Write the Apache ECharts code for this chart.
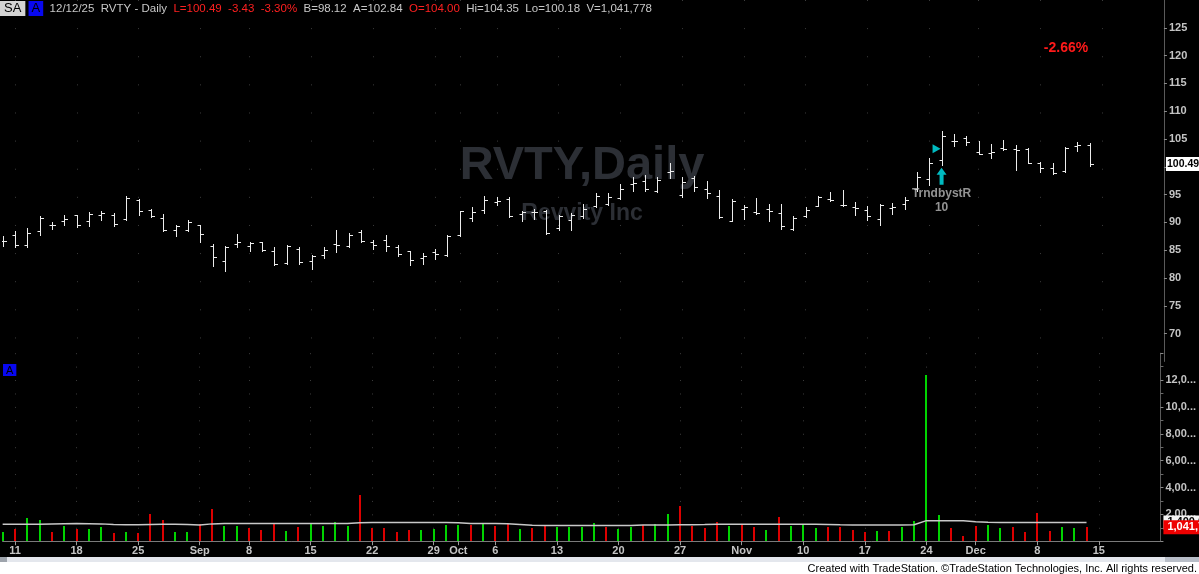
<!DOCTYPE html>
<html><head><meta charset="utf-8">
<script src="https://cdn.jsdelivr.net/npm/echarts@6/dist/echarts.min.js"></script>
<style>html,body{margin:0;padding:0;background:#000;overflow:hidden}#c{width:1199px;height:574px}</style>
</head><body><div id="c"></div><script>
// ---------- DATA ----------
const dates = ['2025-08-08','2025-08-11','2025-08-12','2025-08-13','2025-08-14','2025-08-15','2025-08-18','2025-08-19','2025-08-20','2025-08-21','2025-08-22','2025-08-25','2025-08-26','2025-08-27','2025-08-28','2025-08-29',
'2025-09-02','2025-09-03','2025-09-04','2025-09-05','2025-09-08','2025-09-09','2025-09-10','2025-09-11','2025-09-12','2025-09-15','2025-09-16','2025-09-17','2025-09-18','2025-09-19','2025-09-22','2025-09-23','2025-09-24','2025-09-25','2025-09-26','2025-09-29','2025-09-30',
'2025-10-01','2025-10-02','2025-10-03','2025-10-06','2025-10-07','2025-10-08','2025-10-09','2025-10-10','2025-10-13','2025-10-14','2025-10-15','2025-10-16','2025-10-17','2025-10-20','2025-10-21','2025-10-22','2025-10-23','2025-10-24','2025-10-27','2025-10-28','2025-10-29','2025-10-30','2025-10-31',
'2025-11-03','2025-11-04','2025-11-05','2025-11-06','2025-11-07','2025-11-10','2025-11-11','2025-11-12','2025-11-13','2025-11-14','2025-11-17','2025-11-18','2025-11-19','2025-11-20','2025-11-21','2025-11-24','2025-11-25','2025-11-26','2025-11-28',
'2025-12-01','2025-12-02','2025-12-03','2025-12-04','2025-12-05','2025-12-08','2025-12-09','2025-12-10','2025-12-11','2025-12-12'];
const futureDates = ['2025-12-15','2025-12-16','2025-12-17','2025-12-18','2025-12-19','2025-12-22'];

const opens = [86.6,87.8,85.9,88.5,89.5,90.3,91.3,90.2,91.4,91.4,90.7,94.0,92.3,90.8,88.55,88.7,
89.5,85.8,83.1,86.1,85.7,86.4,84.9,82.7,85.3,83.1,84.2,86.06,85.8,88.3,86.4,86.8,85.5,84.8,83.6,84.6,84.2,
87.7,90.8,92.3,93.65,94.25,91.5,91.9,92.0,89.0,90.4,91.1,92.9,93.4,94.4,97.0,97.45,95.7,99.0,94.9,98.0,96.0,94.8,90.3,
92.5,91.8,92.5,91.7,88.85,91.2,93.0,94.25,93.2,92.8,92.3,90.7,92.6,93.3,96.0,97.8,101.2,104.7,105.2,
102.7,102.4,103.4,103.26,103.26,100.6,99.7,99.23,103.74,104.00];
const highs = [87.5,88.4,89.0,91.2,90.1,91.4,91.4,91.8,92.1,91.7,94.7,94.25,92.5,91.6,89.5,90.5,
89.6,86.1,85.8,88.0,86.5,86.5,85.65,85.9,85.5,84.1,85.65,88.55,88.1,88.55,86.8,87.7,85.9,84.9,84.5,85.2,87.7,
92.1,92.7,94.8,94.66,94.66,92.1,92.5,92.2,91.4,91.7,93.3,95.25,95.25,97.0,98.2,98.5,98.2,100.6,98.2,98.4,97.45,95.85,94.25,
93.06,94.4,93.3,93.3,91.1,92.7,94.8,95.4,95.85,93.6,92.9,93.3,93.5,94.5,99.1,101.6,106.5,105.9,105.6,
104.6,104.15,104.9,103.86,103.38,100.9,100.77,103.56,104.45,104.35];
const lows = [85.8,85.6,85.6,87.8,88.9,89.6,89.2,89.3,90.5,89.4,90.5,91.4,91.0,88.4,87.5,88.4,
86.4,82.1,81.3,85.6,84.8,84.9,82.4,82.6,82.6,81.6,83.6,84.76,85.65,86.5,85.2,84.9,84.0,82.4,82.6,83.4,84.0,
87.5,90.2,91.7,93.2,91.0,90.3,90.7,88.0,88.7,88.6,90.8,92.7,93.2,94.25,95.7,95.7,95.4,97.9,94.66,95.7,94.4,90.8,90.2,
90.7,91.58,90.2,88.9,88.55,90.9,92.9,93.9,92.9,91.4,90.5,89.6,91.5,92.5,95.7,96.7,100.4,103.7,104.0,
102.25,101.5,103.1,99.4,100.7,99.0,98.64,99.11,102.79,100.18];
const closes = [86.65,85.9,88.1,90.8,89.5,90.7,89.5,91.6,91.7,89.7,94.4,92.1,91.2,88.55,89.3,90.1,
88.0,83.7,85.5,86.4,86.3,85.05,82.5,85.8,82.9,83.9,85.0,85.94,87.8,86.65,85.94,85.8,84.4,83.2,84.0,84.3,87.5,
92.0,91.9,93.95,93.77,91.1,91.9,91.8,88.1,91.1,91.3,92.5,94.8,94.6,96.0,97.15,96.0,97.6,99.2,97.3,96.4,95.25,90.9,93.8,
92.76,91.64,92.0,89.3,90.8,92.3,94.5,94.0,93.06,92.6,91.1,93.06,92.8,94.07,98.2,100.7,105.6,104.57,104.45,
102.37,102.67,103.14,102.97,100.77,99.82,98.81,103.44,103.92,100.49];
const volumes = [710000,910000,1750000,1580000,660000,1130000,910000,910000,1030000,590000,660000,640000,2020000,1580000,710000,710000,
1260000,2400000,1130000,1130000,1010000,830000,1380000,780000,1060000,1260000,1130000,1430000,1160000,3460000,1010000,1010000,710000,860000,860000,880000,1230000,
1180000,1180000,1260000,1160000,1260000,910000,1010000,1110000,1080000,1080000,1030000,1380000,1030000,910000,1030000,1210000,1280000,2020000,2650000,1160000,980000,1450000,1130000,
1310000,1080000,860000,1830000,1110000,1260000,980000,1060000,1060000,860000,710000,760000,780000,1060000,1500000,12380000,1950000,1010000,410000,
1110000,1210000,980000,1030000,710000,2120000,780000,1060000,980000,1041778];
const volAvg = [1260000,1260000,1260000,1270000,1290000,1300000,1310000,1300000,1290000,1250000,1230000,1230000,1250000,1260000,1260000,1250000,
1200000,1290000,1310000,1310000,1310000,1310000,1310000,1310000,1310000,1310000,1310000,1310000,1320000,1380000,1390000,1390000,1390000,1390000,1390000,1390000,1390000,
1380000,1320000,1310000,1310000,1300000,1250000,1190000,1160000,1160000,1160000,1160000,1160000,1160000,1160000,1170000,1200000,1210000,1210000,1220000,1230000,1240000,1260000,1260000,
1260000,1260000,1260000,1260000,1260000,1260000,1260000,1250000,1220000,1210000,1210000,1210000,1210000,1210000,1220000,1530000,1530000,1530000,1520000,
1450000,1420000,1400000,1400000,1400000,1400000,1400000,1400000,1400000,1400000];
const priceAxis = {min: 65, max: 130, step: 5};
const volAxis = {min: 0, max: 14000000, step: 2000000};
const bidAsk = 'B=98.12  A=102.84';
const symbolName = 'RVTY', companyName = 'Revvity Inc', pctNote = '-2.66%';
const signal = {date: '2025-11-25', text: 'TrndbystR', count: '10', arrowAt: 98.3, markerAt: 103.26, textAt: 93.9};
const months = ['Jan','Feb','Mar','Apr','May','Jun','Jul','Aug','Sep','Oct','Nov','Dec'];

// ---------- BUILD ----------
const allDates = dates.concat(futureDates);
const N = dates.length, last = N - 1;
const FONT = '"Liberation Sans", Arial, sans-serif';
function dObj(s){ return new Date(s + 'T00:00:00Z'); }
function isMonthStart(i){ return i > 0 && dObj(allDates[i]).getUTCMonth() !== dObj(allDates[i-1]).getUTCMonth(); }
function isLabelIdx(i){
  if (i <= 0 || i >= allDates.length - 1) return false;
  return dObj(allDates[i]).getUTCDay() < dObj(allDates[i-1]).getUTCDay() || isMonthStart(i);
}
const ohlc = dates.map((d, i) => [i, opens[i], closes[i], lows[i], highs[i]]);
const volData = volumes.map((v, i) => [i, v, (i === 0 || closes[i] >= closes[i-1]) ? 1 : -1]);
const chg = closes[last] - closes[last-1];
const pct = chg / closes[last-1] * 100;
const d0 = dObj(dates[last]);
const hdrDate = String(d0.getUTCMonth()+1).padStart(2,'0') + '/' + String(d0.getUTCDate()).padStart(2,'0') + '/' + String(d0.getUTCFullYear()).slice(2);
const sigIdx = dates.indexOf(signal.date);

function renderOHLC(params, api){
  const i = api.value(0);
  const o = api.coord([i, api.value(1)]);
  const c = api.coord([i, api.value(2)]);
  const l = api.coord([i, api.value(3)]);
  const h = api.coord([i, api.value(4)]);
  const x = Math.round(h[0]) + 0.5;
  const st = {stroke: '#ececec', lineWidth: 1};
  const oy = Math.round(o[1]) + 0.5, cy = Math.round(c[1]) + 0.5;
  return {type: 'group', children: [
    {type: 'line', shape: {x1: x, y1: Math.round(h[1]), x2: x, y2: Math.round(l[1]) + 1}, style: st},
    {type: 'line', shape: {x1: x - 3, y1: oy, x2: x, y2: oy}, style: st},
    {type: 'line', shape: {x1: x, y1: cy, x2: x + 3.5, y2: cy}, style: st}
  ]};
}
function renderVol(params, api){
  const i = api.value(0);
  const top = api.coord([i, api.value(1)]);
  const base = api.coord([i, 0]);
  const x = Math.round(top[0]) - 1;
  return {type: 'rect', shape: {x: x, y: Math.round(top[1]), width: 2, height: Math.round(base[1]) - Math.round(top[1])},
    style: {fill: api.value(2) > 0 ? '#00d400' : '#dc0000'}};
}

const gridLeft = 2.65, gridWidth = 1161.3;
const pxPerUnit = 5.624;          // price pane scale
const priceTopY = 24 - (priceAxis.max - 125) * pxPerUnit;
const priceH = (priceAxis.max - priceAxis.min) * pxPerUnit;
const volPx = 13.43 / 1e6;
const volBottomY = 541.2;
const volH = (volAxis.max - volAxis.min) * volPx;

const dotColor = '#3c3c3c';
const axisLblStyle = {color: '#c4c4c4', fontSize: 11, fontWeight: 'bold', fontFamily: FONT};
const hiddenLine = {color: 'rgba(0,0,0,0)', width: 0};

const option = {
  backgroundColor: '#000',
  animation: false,
  title: {
    left: 0, top: 1, padding: 0,
    text: '{sa|SA}{sp| }{a|A}{g|  ' + hdrDate + '  ' + symbolName + ' - Daily  }{r|L=' + closes[last].toFixed(2) + '  ' + chg.toFixed(2) + '  ' + pct.toFixed(2) + '%}{g|  ' + bidAsk + '  }{r|O=' + opens[last].toFixed(2) + '}{g|  Hi=' + highs[last].toFixed(2) + '  Lo=' + lows[last].toFixed(2) + '  V=' + volumes[last].toLocaleString('en-US') + '}',
    textStyle: {
      fontFamily: FONT, fontSize: 11.5, fontWeight: 'normal',
      rich: {
        sa: {backgroundColor: '#d4d4d4', color: '#000', fontSize: 13, fontFamily: FONT, padding: [1, 4, 1, 4]},
        sp: {fontSize: 11.5, fontFamily: FONT},
        a: {backgroundColor: '#0808f0', color: '#000', fontSize: 13, fontFamily: FONT, padding: [1, 3, 1, 3]},
        g: {color: '#c8c8c8', fontSize: 11.5, fontFamily: FONT},
        r: {color: '#ff2020', fontSize: 11.5, fontFamily: FONT}
      }
    }
  },
  graphic: [
    {type: 'text', x: 582, y: 166, z: 0, silent: true, style: {text: symbolName + ',Daily', fill: '#2c2f35', font: 'bold 47px ' + FONT, textAlign: 'center', textVerticalAlign: 'middle', align: 'center', verticalAlign: 'middle'}},
    {type: 'text', x: 582, y: 214, z: 0, silent: true, style: {text: companyName, fill: '#2c2f35', font: 'bold 23px ' + FONT, textAlign: 'center', textVerticalAlign: 'middle', align: 'center', verticalAlign: 'middle'}},
    {type: 'text', x: 1066, y: 48, z: 10, silent: true, style: {text: pctNote, fill: '#ff1a1a', font: 'bold 14px ' + FONT, textAlign: 'center', textVerticalAlign: 'middle', align: 'center', verticalAlign: 'middle'}},
    {type: 'text', x: 3, y: 364, z: 10, silent: true, style: {text: 'A', fill: '#000', font: '11px ' + FONT, backgroundColor: '#0808f0', padding: [1, 3, 0, 3]}},
    {type: 'rect', x: 0, y: 557, z: 10, silent: true, shape: {width: 1199, height: 5}, style: {fill: '#e4e7ed'}},
    {type: 'rect', x: 0, y: 557, z: 11, silent: true, shape: {width: 7, height: 5}, style: {fill: '#9ea4ac'}},
    {type: 'rect', x: 1165, y: 557, z: 11, silent: true, shape: {width: 34, height: 5}, style: {fill: '#b8bec8'}},
    {type: 'rect', x: 0, y: 562, z: 10, silent: true, shape: {width: 1199, height: 12}, style: {fill: '#ffffff'}},
    {type: 'text', x: 1197, y: 568.5, z: 12, silent: true, style: {text: 'Created with TradeStation. \u00A9TradeStation Technologies, Inc. All rights reserved.', fill: '#000', font: '11px ' + FONT, textAlign: 'right', textVerticalAlign: 'middle', align: 'right', verticalAlign: 'middle'}}
  ],
  grid: [
    {left: gridLeft, width: gridWidth, top: priceTopY, height: priceH, containLabel: false},
    {left: gridLeft, width: gridWidth, top: volBottomY - volH, height: volH, containLabel: false}
  ],
  xAxis: [
    {type: 'category', gridIndex: 0, data: allDates, boundaryGap: false,
     axisLine: {show: false}, axisTick: {show: false}, axisLabel: {show: false},
     splitLine: {show: true, interval: (i) => isLabelIdx(i), lineStyle: {color: dotColor, width: 1, type: [1, pxPerUnit * 5 - 1]}}},
    {type: 'category', gridIndex: 1, data: allDates, boundaryGap: false,
     axisLine: {show: true, lineStyle: {color: '#7a7a7a', width: 1}},
     axisTick: {show: true, interval: (i) => isLabelIdx(i), length: 4, lineStyle: {color: '#9a9a9a'}},
     axisLabel: Object.assign({show: true, interval: (i) => isLabelIdx(i), margin: 4,
       formatter: (v, i) => { const d = dObj(v); return isMonthStart(i) ? months[d.getUTCMonth()] : String(d.getUTCDate()); }}, axisLblStyle),
     splitLine: {show: true, interval: (i) => isLabelIdx(i), lineStyle: {color: dotColor, width: 1, type: [1, 1e6 * volPx - 1]}}}
  ],
  yAxis: [
    {type: 'value', gridIndex: 0, position: 'right', min: priceAxis.min, max: priceAxis.max, interval: priceAxis.step,
     axisLine: {show: true, lineStyle: {color: '#5a5a5a'}},
     axisTick: {show: true, length: 3, lineStyle: {color: '#8a8a8a'}},
     axisLabel: Object.assign({showMinLabel: false, showMaxLabel: false, margin: 5}, axisLblStyle),
     splitLine: {show: false}},
    {type: 'value', gridIndex: 1, position: 'right', min: volAxis.min, max: volAxis.max, interval: volAxis.step,
     axisLine: {show: true, lineStyle: {color: '#5a5a5a'}},
     axisTick: {show: true, length: 3, lineStyle: {color: '#8a8a8a'}},
     minorTick: {show: true, splitNumber: 2, length: 3, lineStyle: {color: '#6a6a6a'}},
     axisLabel: Object.assign({showMinLabel: false, showMaxLabel: false, margin: 5,
       formatter: (v) => v.toLocaleString('en-US').slice(0, 4) + '...'}, axisLblStyle),
     splitLine: {show: false}}
  ],
  series: [
    {type: 'custom', name: 'price', xAxisIndex: 0, yAxisIndex: 0, renderItem: renderOHLC, data: ohlc,
     encode: {x: 0, y: [1, 2, 3, 4]}, z: 3, clip: true},
    {type: 'scatter', name: 'signal', xAxisIndex: 0, yAxisIndex: 0, z: 4,
     data: [
       {value: [sigIdx, signal.markerAt], symbol: 'triangle', symbolRotate: -90, symbolSize: [9, 8], symbolOffset: [-5, 0], itemStyle: {color: '#00e8f0'}},
       {value: [sigIdx, signal.arrowAt], symbol: 'path://M5,0 L10,7 L7,7 L7,17 L3,17 L3,7 L0,7 Z', symbolSize: [10, 17], itemStyle: {color: '#00e8f0'}},
       {value: [sigIdx, signal.textAt], symbol: 'circle', symbolSize: 0,
        label: {show: true, position: 'inside', formatter: signal.text + '\n' + signal.count, color: '#b8b8b8', fontSize: 12, fontWeight: 'bold', fontFamily: FONT, lineHeight: 14}}
     ],
     markLine: {silent: true, symbol: 'none', z: 6, lineStyle: hiddenLine,
       label: {show: true, position: 'end', distance: 2, formatter: () => closes[last].toFixed(2), color: '#000', backgroundColor: '#ffffff', fontSize: 10.5, fontWeight: 'bold', fontFamily: FONT, padding: [2, 1, 1, 1]},
       data: [{yAxis: closes[last]}]}},
    {type: 'custom', name: 'volume', xAxisIndex: 1, yAxisIndex: 1, renderItem: renderVol, data: volData,
     encode: {x: 0, y: 1}, z: 2,
     markLine: {silent: true, symbol: 'none', z: 7, lineStyle: hiddenLine,
       label: {show: true, position: 'end', distance: 3, formatter: () => volumes[last].toLocaleString('en-US'), color: '#fff', backgroundColor: '#ee0000', fontSize: 11, fontWeight: 'bold', fontFamily: FONT, padding: [2, 2, 1, 4]},
       data: [{yAxis: volumes[last]}]}},
    {type: 'line', name: 'volAvg', xAxisIndex: 1, yAxisIndex: 1, data: volAvg, showSymbol: false, symbol: 'none', z: 3,
     lineStyle: {color: '#c8c8c8', width: 1.5},
     markLine: {silent: true, symbol: 'none', z: 6, lineStyle: hiddenLine,
       label: {show: true, position: 'end', distance: 3, formatter: () => volAvg[last].toLocaleString('en-US'), color: '#000', backgroundColor: '#f4f4f4', fontSize: 11, fontWeight: 'bold', fontFamily: FONT, padding: [2, 2, 1, 4]},
       data: [{yAxis: volAvg[last]}]}}
  ]
};
const chart = echarts.init(document.getElementById('c'), null, {renderer: 'canvas'});
chart.setOption(option);
</script></body></html>
